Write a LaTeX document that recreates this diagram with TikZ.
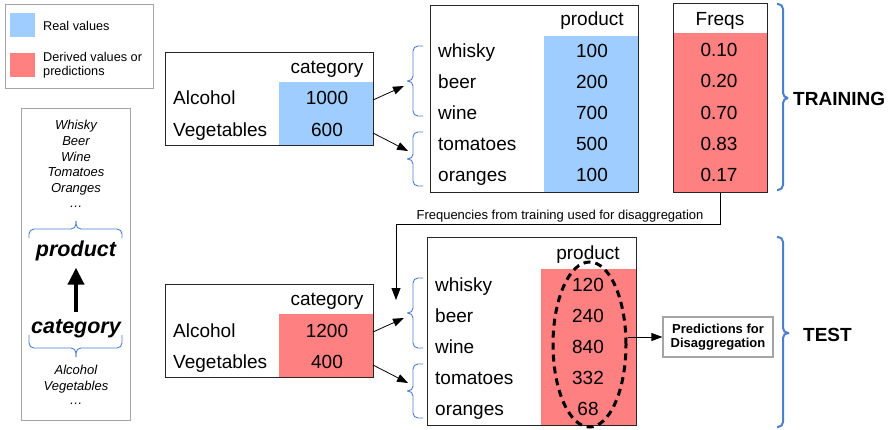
\documentclass[tikz,border=0pt]{standalone}
\usepackage{fontspec}
\setmainfont{Liberation Sans}
\usetikzlibrary{arrows.meta,shapes.geometric}
\definecolor{realblue}{RGB}{159,205,255}
\definecolor{derivred}{RGB}{255,128,128}
\definecolor{braceblue}{RGB}{76,128,204}
\definecolor{boxgray}{RGB}{165,165,165}
\tikzset{
  tbox/.style={draw=black!85, line width=0.9pt, anchor=north west, inner sep=0pt},
  bcell/.style={fill=realblue, anchor=north west, inner sep=0pt},
  rcell/.style={fill=derivred, anchor=north west, inner sep=0pt},
  tt/.style={font=\fontsize{19}{21}\selectfont, inner sep=0pt, anchor=base},
  ttl/.style={tt, anchor=base west},
  ft/.style={font=\fontsize{12.7}{14}\selectfont, inner sep=0pt, anchor=base west},
  it/.style={font=\fontsize{13}{15}\selectfont\itshape, inner sep=0pt, anchor=base},
  bigit/.style={font=\fontsize{21.5}{24}\selectfont\bfseries\itshape, inner sep=0pt, anchor=base},
  phase/.style={font=\fontsize{19}{22}\selectfont\bfseries, inner sep=0pt, anchor=west},
  brc/.style={draw=braceblue, line width=0.9pt, rounded corners=5pt},
  bigbrc/.style={draw=braceblue, line width=2pt, rounded corners=5pt},
  conn/.style={draw=black, line width=0.8pt, -{Triangle[length=11pt,width=8pt]}},
  gbox/.style={draw=boxgray, line width=1.2pt, anchor=north west, inner sep=0pt, fill=white},
}
\begin{document}
\begin{tikzpicture}[x=1pt,y=-1pt]
\useasboundingbox (0,0) rectangle (891,429);

% ---------- legend ----------
\node[gbox, minimum width=148pt, minimum height=84pt] (legend) at (5,4) {};
\node[bcell, minimum width=25pt, minimum height=24pt] (swblue) at (10,13) {};
\node[rcell, minimum width=25pt, minimum height=24pt] (swred) at (10,53) {};
\node[ft] (lg1) at (43,30.5) {Real values};
\node[ft] (lg2) at (43,61.5) {Derived values or};
\node[ft] (lg3) at (43,75) {predictions};

% ---------- left panel ----------
\node[gbox, minimum width=109pt, minimum height=312pt] (panel) at (21,108) {};
\node[it] (pw1) at (76,129.7) {Whisky};
\node[it] (pw2) at (76,145.7) {Beer};
\node[it] (pw3) at (76,161.7) {Wine};
\node[it] (pw4) at (76,176.7) {Tomatoes};
\node[it] (pw5) at (76,192.7) {Oranges};
\node[it] (pw6) at (76,207) {…};
\draw[brc] (29,238) -- (29,229) -- (76,229) -- (76,221);
\draw[brc] (122,238) -- (122,229) -- (76,229) -- (76,221);
\node[bigit] (product) at (76,256) {product};
\node[bigit] (category) at (76,333) {category};
\draw[line width=4pt, -{Triangle[length=17pt,width=16pt]}, shorten <=7pt, shorten >=7pt] (category.north) -- (product.south);
\draw[brc] (29,335) -- (29,348) -- (76,348) -- (76,357);
\draw[brc] (122,335) -- (122,348) -- (76,348) -- (76,357);
\node[it] (pc1) at (76,374.5) {Alcohol};
\node[it] (pc2) at (76,390) {Vegetables};
\node[it] (pc3) at (76,404) {…};

% ---------- training: category table ----------
\node[bcell, minimum width=94pt, minimum height=63pt] (catAcell) at (279,82) {};
\node[tbox, minimum width=208pt, minimum height=93pt] (catA) at (165,52) {};
\node[tt] (catAh) at (327,73) {category};
\node[ttl] (catAl1) at (173,104) {Alcohol};
\node[ttl] (catAl2) at (173,136.5) {Vegetables};
\node[tt] (catAv1) at (327,104) {1000};
\node[tt] (catAv2) at (327,136.5) {600};

% ---------- training: product table ----------
\node[bcell, minimum width=94pt, minimum height=156pt] (prodAcell) at (544,36) {};
\node[tbox, minimum width=208pt, minimum height=187pt] (prodA) at (430,5) {};
\node[tt] (prodAh) at (592,25.7) {product};
\node[ttl] (pA1) at (438,57.3) {whisky};
\node[ttl] (pA2) at (438,88.3) {beer};
\node[ttl] (pA3) at (438,119.3) {wine};
\node[ttl] (pA4) at (438,150.5) {tomatoes};
\node[ttl] (pA5) at (438,181.7) {oranges};
\node[tt] (vA1) at (592,57.3) {100};
\node[tt] (vA2) at (592,88.3) {200};
\node[tt] (vA3) at (592,119.3) {700};
\node[tt] (vA4) at (592,150.5) {500};
\node[tt] (vA5) at (592,181.7) {100};

% braces training
\draw[brc] (423,46) -- (413,46) -- (413,81) -- (407,81);
\draw[brc] (423,116) -- (413,116) -- (413,81) -- (407,81);
\draw[brc] (423,132) -- (413,132) -- (413,159) -- (407,159);
\draw[brc] (423,186) -- (413,186) -- (413,159) -- (407,159);
\coordinate (sA1) at (373,100);
\coordinate (eA1) at (404,86);
\coordinate (sA2) at (373,133);
\coordinate (eA2) at (408,151);
\draw[conn] (sA1) -- (eA1);
\draw[conn] (sA2) -- (eA2);

% ---------- freqs ----------
\node[rcell, minimum width=94pt, minimum height=159pt] (freqcell) at (673,33) {};
\node[tbox, minimum width=94pt, minimum height=189pt] (freqs) at (673,3) {};
\node[tt] (fh) at (720,25) {Freqs};
\node[tt] (f1) at (719,56.5) {0.10};
\node[tt] (f2) at (719,87.7) {0.20};
\node[tt] (f3) at (719,119) {0.70};
\node[tt] (f4) at (719,150.2) {0.83};
\node[tt] (f5) at (719,181.4) {0.17};

\draw[bigbrc] (777,4) -- (783,4) -- (783,98) -- (788,98);
\draw[bigbrc] (777,190) -- (783,190) -- (783,98) -- (788,98);
\node[phase] (train) at (793,99) {TRAINING};

% ---------- frequency connector ----------
\coordinate (ftip) at (396,300);
\draw[draw=black, line width=0.8pt, -{Triangle[length=12pt,width=9pt]}] (freqs.south) -- ++(0,31) -| (ftip);
\node[font=\fontsize{13}{15}\selectfont, inner sep=0pt, anchor=base] (flabel) at (560,219) {Frequencies from training used for disaggregation};

% ---------- test: category table ----------
\node[rcell, minimum width=94pt, minimum height=63pt] (catBcell) at (279,314) {};
\node[tbox, minimum width=208pt, minimum height=93pt] (catB) at (165,284) {};
\node[tt] (catBh) at (327,305) {category};
\node[ttl] (catBl1) at (173,337) {Alcohol};
\node[ttl] (catBl2) at (173,368) {Vegetables};
\node[tt] (catBv1) at (327,337) {1200};
\node[tt] (catBv2) at (327,368) {400};

% ---------- test: product table ----------
\node[rcell, minimum width=95pt, minimum height=156pt] (prodBcell) at (541,269) {};
\node[tbox, minimum width=209pt, minimum height=188pt] (prodB) at (427,237) {};
\node[tt] (prodBh) at (588,259) {product};
\node[ttl] (pB1) at (435,291) {whisky};
\node[ttl] (pB2) at (435,322.3) {beer};
\node[ttl] (pB3) at (435,353) {wine};
\node[ttl] (pB4) at (435,384) {tomatoes};
\node[ttl] (pB5) at (435,415.5) {oranges};
\node[tt] (vB1) at (588,291) {120};
\node[tt] (vB2) at (588,322.3) {240};
\node[tt] (vB3) at (588,353) {840};
\node[tt] (vB4) at (588,384) {332};
\node[tt] (vB5) at (588,415.5) {68};

\node[draw=black, ellipse, line width=3pt, dash pattern=on 7pt off 5pt, inner sep=0pt, minimum width=73pt, minimum height=165pt] (ell) at (589.5,344.5) {};

% braces test
\draw[brc] (423,278) -- (413,278) -- (413,313) -- (407,313);
\draw[brc] (423,348) -- (413,348) -- (413,313) -- (407,313);
\draw[brc] (423,364) -- (413,364) -- (413,391) -- (407,391);
\draw[brc] (423,418) -- (413,418) -- (413,391) -- (407,391);
\coordinate (sB1) at (373,332);
\coordinate (eB1) at (404,318);
\coordinate (sB2) at (373,365);
\coordinate (eB2) at (408,383);
\draw[conn] (sB1) -- (eB1);
\draw[conn] (sB2) -- (eB2);

% predictions
\node[draw=boxgray, line width=1.2pt, fill=white, inner sep=0pt, minimum width=110pt, minimum height=40pt, align=center, font=\fontsize{13}{14.3}\selectfont\bfseries] (pred) at (718,337) {Predictions for\\Disaggregation};
\draw[conn] (ell.east |- pred.west) -- (pred.west);

\draw[bigbrc] (777,237) -- (783,237) -- (783,333) -- (789,333);
\draw[bigbrc] (777,427) -- (783,427) -- (783,333) -- (789,333);
\node[phase] (test) at (803,334.5) {TEST};
\end{tikzpicture}
\end{document}
